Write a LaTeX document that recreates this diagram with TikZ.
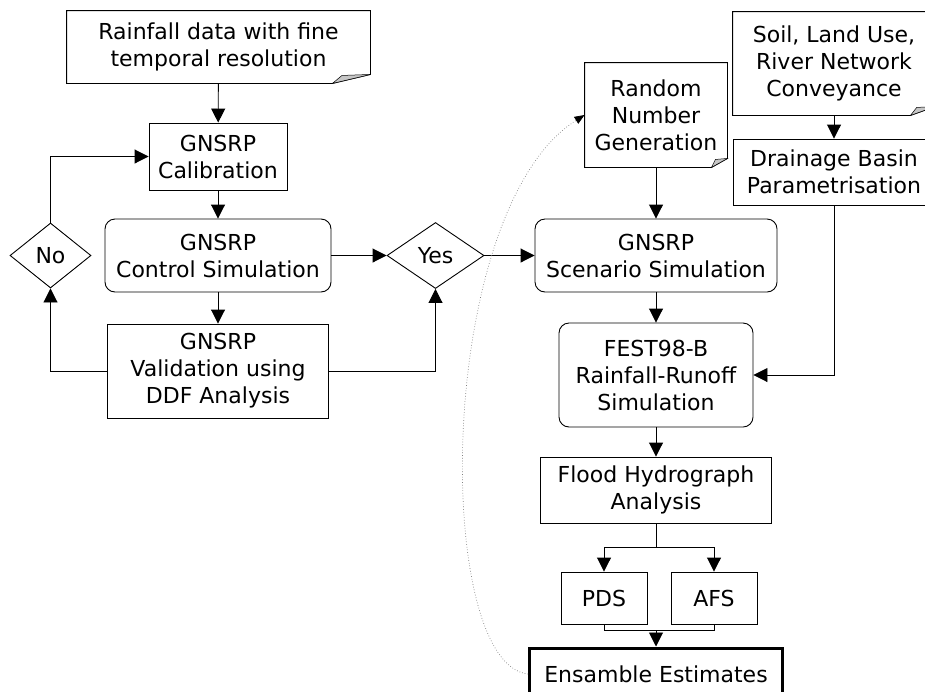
\documentclass[tikz,border=0pt]{standalone}
\usepackage{fontspec}
\setmainfont{DejaVu Sans}
\usetikzlibrary{
    arrows.meta,
    shapes.geometric,
    calc,
    positioning
}
% outline of a note box, with its curled corner
\newcommand{\foldbox}[2]{%
    \draw (#1.north west) -- (#1.north east) -- ([yshift=9pt]#1.south east)
    -- ([xshift=-#2]#1.south east) -- (#1.south west) -- cycle;
    \filldraw[fill=gray!45, line width=0.5pt]
    ([xshift=-#2]#1.south east) -- ([xshift={-0.75*#2}, yshift=8pt]#1.south east)
    -- ([yshift=9pt]#1.south east) -- cycle;}

\begin{document}
\begin{tikzpicture}[x=1pt, y=-1pt, line width=0.9pt,
    >={Triangle[width=14pt,length=14pt]},
    every node/.style={font=\fontsize{22}{27}\selectfont, align=center, inner sep=0pt},
    box/.style={draw},
    rbox/.style={draw, rounded corners=10pt},
    note/.style={draw=none},
    choice/.style={draw, diamond}]
    \useasboundingbox (0,0) rectangle (925,691);
    \clip (0,0) rectangle (925,691);
    % calibration loop
    \node[note, minimum width=303pt, minimum height=72pt] (rain) at (218.5,47) {Rainfall data with fine\\temporal resolution};
    \node[box, minimum width=138pt, minimum height=67pt] (calib) at (218,156.5) {GNSRP\\Calibration};
    \node[rbox, minimum width=226pt, minimum height=73pt] (ctrl) at (218,255.5) {GNSRP\\Control Simulation};
    \node[box, minimum width=221pt, minimum height=94pt] (valid) at (218,371) {GNSRP\\Validation using\\DDF Analysis};
    \node[choice, minimum width=81pt, minimum height=65pt] (no) at (50.5,255.5) {No};
    \node[choice, minimum width=97pt, minimum height=66pt] (yes) at (435.5,255.5) {Yes};
    % scenario chain
    \node[note, minimum width=142pt, minimum height=104pt] (random) at (656,115) {Random\\Number\\Generation};
    \node[note, minimum width=202pt, minimum height=103pt] (soil) at (834,63.5) {Soil, Land Use,\\River Network\\Conveyance};
    \node[box, minimum width=202pt, minimum height=66pt] (drain) at (834,172) {Drainage Basin\\Parametrisation};
    \node[rbox, minimum width=242pt, minimum height=73pt] (scen) at (656,255.5) {GNSRP\\Scenario Simulation};
    \node[rbox, minimum width=194pt, minimum height=104pt] (fest) at (656,375) {FEST98-B\\Rainfall-Runoff\\Simulation};
    \node[box, minimum width=231pt, minimum height=66pt] (flood) at (656,490) {Flood Hydrograph\\Analysis};
    \node[box, minimum width=86pt, minimum height=52pt] (pds) at (604,598) {PDS};
    \node[box, minimum width=86pt, minimum height=52pt] (afs) at (714,598) {AFS};
    \node[box, line width=3pt, minimum width=253pt, minimum height=52pt] (ens) at (656,674) {Ensamble Estimates};
    \foldbox{rain}{38pt}
    \foldbox{random}{16pt}
    \foldbox{soil}{25pt}
    \coordinate (split) at ($(flood.south)+(0,24)$);
    \coordinate (merge) at ($(ens.north)+(0,-16)$);
    \draw[->] (rain) -- (calib);
    \draw[->] (calib) -- (ctrl);
    \draw[->] (ctrl) -- (valid);
    \draw[->] (valid.west) -| (no.south);
    \draw[->] (no.north) |- (calib.west);
    \draw[->] (ctrl) -- (yes);
    \draw[->] (valid.east) -| (yes.south);
    \draw[->] (yes) -- (scen);
    \draw[->] (random) -- (scen);
    \draw[->] (soil) -- (drain);
    \draw[->] (drain.south) |- (fest.east);
    \draw[->] (scen) -- (fest);
    \draw[->] (fest) -- (flood);
    \draw (flood.south) -- (split);
    \draw[->] (split) -| (pds.north);
    \draw[->] (split) -| (afs.north);
    \draw (pds.south) |- (merge) -| (afs.south);
    \draw[->] (merge) -- (ens.north);
    \draw[dotted, gray, line width=0.7pt, -{Triangle[width=8pt,length=10pt,black]}]
    (ens.west) .. controls +(-95,-10) and +(-150,95) .. (random.west);
\end{tikzpicture}
\end{document}
